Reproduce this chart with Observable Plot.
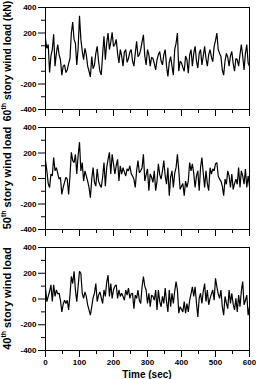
<!DOCTYPE html>
<html><head><meta charset="utf-8">
<script src="https://cdn.jsdelivr.net/npm/d3@7"></script>
<script src="https://cdn.jsdelivr.net/npm/@observablehq/plot@0.6"></script>
<style>
html,body{margin:0;padding:0;background:#fff;}
body{width:256px;height:379px;overflow:hidden;}
#chart svg{display:block;}
</style></head><body><div id="chart"></div>
<script>
// time axis sampled every 4 s from 0 to 600 s
const times = d3.range(0, 601, 4);

const load60 = [150,80,110,-110,20,70,190,-60,40,110,30,-10,-130,-60,-50,-110,-90,-40,0,200,285,150,120,-50,80,335,150,60,-10,80,30,-60,-100,-145,15,-80,-50,40,95,-20,-100,-130,30,175,-10,120,200,70,130,205,95,110,150,40,-35,70,20,-60,50,70,-30,0,50,70,-20,-60,40,135,15,30,70,130,185,20,-50,70,30,-60,10,0,-40,-90,-10,30,55,-20,-50,30,70,-60,-140,-30,15,-60,-130,70,120,200,-100,-20,-35,-70,-100,20,-10,-115,30,70,-60,40,95,-20,-75,40,70,-50,20,95,0,-60,30,70,10,-25,95,140,200,70,40,15,-90,-130,-20,40,10,-60,20,55,-40,-100,0,-10,-60,30,110,20,-90,40,110,-35,-60];

const load50 = [140,60,-40,-70,35,20,165,60,85,40,-5,10,-125,-70,-30,10,-5,-125,20,205,140,125,190,35,180,285,60,125,-20,60,20,-20,-70,-150,-5,85,-30,-60,75,-20,-50,-70,10,125,-60,85,150,205,35,190,115,35,100,150,-20,100,35,85,50,20,75,60,100,40,20,-5,-70,60,140,45,60,85,190,-20,30,75,-95,35,10,-30,60,-95,-20,115,30,-5,60,140,20,-45,85,-135,10,60,-70,40,85,190,60,-85,-60,-40,-135,-20,-70,-20,125,60,115,40,-70,20,60,-95,85,165,40,-70,60,-40,-95,85,35,75,60,115,125,20,-5,-20,-60,-135,-5,-45,60,20,-70,35,-85,-40,-5,-45,85,-70,60,20,-45,75,-70,20,-60];

const load40 = [85,-20,20,60,110,-20,110,20,70,40,45,-10,-100,-40,-10,-35,-10,-85,30,175,120,215,70,-20,100,215,200,45,5,55,20,-45,-85,-125,-60,10,45,120,-20,30,55,10,-35,70,20,130,185,20,120,5,70,100,110,5,70,20,45,20,-10,70,30,85,5,40,45,-75,30,5,70,-10,-35,95,175,100,70,-35,45,-60,30,20,-10,70,-85,70,-20,-60,20,-35,85,-20,-100,70,-60,45,-35,60,135,70,-110,-60,-80,-100,-20,-110,-35,-100,-10,40,95,20,95,-30,-140,5,45,-35,60,120,-20,70,-45,5,40,70,-10,160,95,40,5,70,-60,-125,20,-30,-75,70,-35,45,-40,-85,5,-100,30,-60,60,135,-45,-10,30,-125,-60];

const yTicks = [-400, -200, 0, 200, 400];
const yMinorTicks = [-300, -100, 100, 300];
const xTicks = [0, 100, 200, 300, 400, 500, 600];
const xMinorTicks = [50, 150, 250, 350, 450, 550];
const panelLabels = [
  ["60", "th", " story wind load (kN)"],
  ["50", "th", " story wind load"],
  ["40", "th", " story wind load"]
];
const xLabel = "Time (sec)";

const FONT = "'Liberation Sans', Arial, Helvetica, sans-serif";

function makePanel(values, label, bottom, first) {
  const rows = values.map((v, i) => ({t: times[i], v}));
  const height = bottom ? 139 : 120;
  const marginTop = 7;
  const marginBottom = bottom ? 29 : 11;
  const marginLeft = 45, marginRight = 7;
  const xAxisOpts = {ticks: xTicks, tickSize: 7, tickPadding: 2, fontSize: 8, label: null};
  if (bottom) xAxisOpts.tickFormat = d => String(d); else xAxisOpts.text = null;
  const svg = Plot.plot({
    width: 256, height, marginTop, marginBottom, marginLeft, marginRight,
    style: {fontFamily: FONT, fontWeight: "bold", fontSize: "8px", color: "black", background: "white", overflow: "visible"},
    x: {domain: [0, 600]},
    y: {domain: [-400, 400]},
    marks: [
      Plot.axisY({ticks: yTicks, tickSize: 7, tickPadding: 2, fontSize: 8, tickFormat: d => String(d), label: null}),
      Plot.axisY({ticks: yMinorTicks, tickSize: 4, text: null, label: null}),
      Plot.axisX(xAxisOpts),
      Plot.axisX({ticks: xMinorTicks, tickSize: 4, text: null, label: null}),
      Plot.line(rows, {x: "t", y: "v", stroke: "black", strokeWidth: 1.2, strokeLinejoin: "miter"}),
      Plot.frame({stroke: "black", strokeWidth: 1})
    ]
  });
  const s = d3.select(svg);
  let cy = marginTop + (height - marginTop - marginBottom) / 2;
  if (first) cy = 61;
  const txt = s.append("text")
    .attr("transform", `translate(7,${cy}) rotate(-90)`)
    .attr("text-anchor", "middle")
    .attr("dominant-baseline", "central")
    .attr("font-family", FONT)
    .attr("font-size", first ? 10.4 : 11)
    .attr("font-weight", "bold")
    .attr("fill", "black");
  txt.append("tspan").text(label[0]);
  txt.append("tspan").attr("font-size", 7).attr("dy", -4).text(label[1]);
  txt.append("tspan").attr("dy", 4).text(label[2]);
  if (bottom) {
    s.append("text")
      .attr("x", marginLeft + (256 - marginLeft - marginRight) / 2)
      .attr("y", 134)
      .attr("text-anchor", "middle")
      .attr("dominant-baseline", "central")
      .attr("font-family", FONT)
      .attr("font-size", 10)
      .attr("font-weight", "bold")
      .attr("fill", "black")
      .text(xLabel);
  }
  return svg;
}

const chart = document.getElementById("chart");
chart.appendChild(makePanel(load60, panelLabels[0], false, true));
chart.appendChild(makePanel(load50, panelLabels[1], false, false));
chart.appendChild(makePanel(load40, panelLabels[2], true, false));
</script>
</body></html>
